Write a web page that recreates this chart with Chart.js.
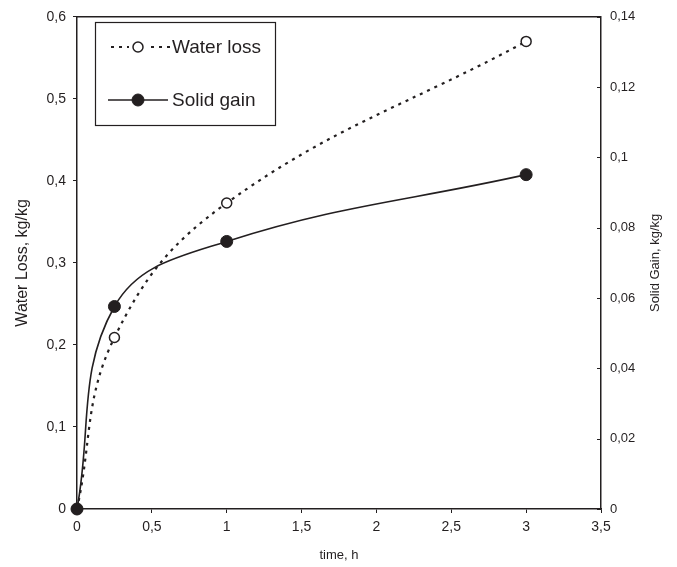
<!DOCTYPE html>
<html>
<head>
<meta charset="utf-8">
<script src="https://cdn.jsdelivr.net/npm/chart.js@4"></script>
<style>
  html, body { margin: 0; padding: 0; background: #fff; }
  #wrap { width: 677px; height: 567px; }
</style>
</head>
<body>
<div id="wrap"><canvas id="chart" width="677" height="567"></canvas></div>
<script>
// time points (h)
const timeH = [0, 0.25, 1, 3];
// water loss, kg/kg (left axis)
const waterLoss = [0, 0.209, 0.373, 0.570];
// solid gain, kg/kg (right axis)
const solidGain = [0, 0.0576, 0.0761, 0.0951];

const seriesNames = ['Water loss', 'Solid gain'];
const axisTitles = { x: 'time, h', y: 'Water Loss, kg/kg', y2: 'Solid Gain, kg/kg' };

const INK = '#231f20';
const FONT = "'Liberation Sans', Arial, sans-serif";

const comma = (v, d) => String(parseFloat(Number(v).toFixed(d))).replace('.', ',');

// frame, inward right ticks, right title and legend box
const extras = {
  id: 'extras',
  afterDraw(chart) {
    const { ctx, chartArea: a, scales } = chart;
    ctx.save();
    ctx.strokeStyle = INK;
    ctx.lineWidth = 1.5;
    ctx.beginPath();
    ctx.moveTo(a.left, a.top);
    ctx.lineTo(a.right, a.top);
    ctx.stroke();

    // right axis ticks point inward
    ctx.lineWidth = 1;
    scales.y2.ticks.forEach(t => {
      const py = Math.round(scales.y2.getPixelForValue(t.value)) + 0.5;
      ctx.beginPath();
      ctx.moveTo(a.right - 4, py);
      ctx.lineTo(a.right, py);
      ctx.stroke();
    });

    // right axis title reads bottom to top
    ctx.fillStyle = INK;
    ctx.font = '13px ' + FONT;
    ctx.textAlign = 'center';
    ctx.textBaseline = 'middle';
    ctx.translate(655, (a.top + a.bottom) / 2);
    ctx.rotate(-Math.PI / 2);
    ctx.fillText(axisTitles.y2, 0, 0);
    ctx.setTransform(1, 0, 0, 1, 0, 0);

    // legend
    ctx.lineWidth = 1.2;
    ctx.strokeRect(95.5, 22.5, 180, 103);
    const rows = [47, 100];
    chart.data.datasets.forEach((ds, i) => {
      const y = rows[i];
      ctx.strokeStyle = INK;
      ctx.lineWidth = ds.borderWidth;
      ctx.setLineDash(ds.borderDash || []);
      ctx.beginPath();
      ctx.moveTo(i === 0 ? 111 : 108, y);
      ctx.lineTo(i === 0 ? 170 : 168, y);
      ctx.stroke();
      ctx.setLineDash([]);
      if (i === 0) {
        ctx.fillStyle = '#fff';
        ctx.fillRect(129, y - 7, 18, 14);
      }
      ctx.beginPath();
      ctx.arc(138, y, ds.pointRadius, 0, Math.PI * 2);
      ctx.fillStyle = ds.pointBackgroundColor;
      ctx.fill();
      ctx.lineWidth = ds.pointBorderWidth;
      ctx.strokeStyle = INK;
      ctx.stroke();
      ctx.fillStyle = INK;
      ctx.font = '19px ' + FONT;
      ctx.textAlign = 'left';
      ctx.textBaseline = 'middle';
      ctx.fillText(ds.label, 172, y + 1);
    });
    ctx.restore();
  }
};

new Chart(document.getElementById('chart'), {
  type: 'line',
  data: {
    datasets: [
      {
        label: seriesNames[0],
        data: timeH.map((t, i) => ({ x: t, y: waterLoss[i] })),
        yAxisID: 'y',
        order: 1,
        borderColor: INK,
        borderWidth: 2.2,
        borderDash: [3, 5],
        tension: 0.4,
        pointRadius: 5,
        pointBackgroundColor: '#fff',
        pointBorderColor: INK,
        pointBorderWidth: 1.5,
        clip: false
      },
      {
        label: seriesNames[1],
        data: timeH.map((t, i) => ({ x: t, y: solidGain[i] })),
        yAxisID: 'y2',
        order: 0,
        borderColor: INK,
        borderWidth: 1.6,
        tension: 0.4,
        pointRadius: 6,
        pointBackgroundColor: INK,
        pointBorderColor: INK,
        pointBorderWidth: 1,
        clip: false
      }
    ]
  },
  plugins: [extras],
  options: {
    responsive: false,
    animation: false,
    layout: { padding: { top: 13, left: 0, right: 0, bottom: 0 } },
    plugins: { legend: { display: false }, tooltip: { enabled: false } },
    scales: {
      x: {
        type: 'linear',
        min: 0,
        max: 3.5,
        afterFit: s => { s.height = 58; },
        ticks: { stepSize: 0.5, color: INK, font: { family: FONT, size: 14 }, padding: 6, maxRotation: 0,
          callback: v => comma(v, 1) },
        grid: { drawOnChartArea: false, tickLength: 4, color: INK, tickWidth: 1 },
        border: { color: INK, width: 1.5 },
        title: { display: true, text: axisTitles.x, color: INK, font: { family: FONT, size: 13 }, padding: { top: 7 } }
      },
      y: {
        position: 'left',
        min: 0,
        max: 0.6,
        afterFit: s => { s.width = 77; },
        ticks: { stepSize: 0.1, color: INK, font: { family: FONT, size: 14 }, padding: 7,
          callback: v => comma(v, 1) },
        grid: { drawOnChartArea: false, tickLength: 4, color: INK, tickWidth: 1 },
        border: { color: INK, width: 1.5 },
        title: { display: true, text: axisTitles.y, color: INK, font: { family: FONT, size: 16 }, padding: { top: 13, bottom: 0 } }
      },
      y2: {
        position: 'right',
        min: 0,
        max: 0.14,
        afterFit: s => { s.width = 76; },
        ticks: { stepSize: 0.02, color: INK, font: { family: FONT, size: 13 }, padding: 9,
          callback: v => comma(v, 2) },
        grid: { display: false, drawTicks: false },
        border: { display: true, color: INK, width: 1.5 }
      }
    }
  }
});
</script>
</body>
</html>
